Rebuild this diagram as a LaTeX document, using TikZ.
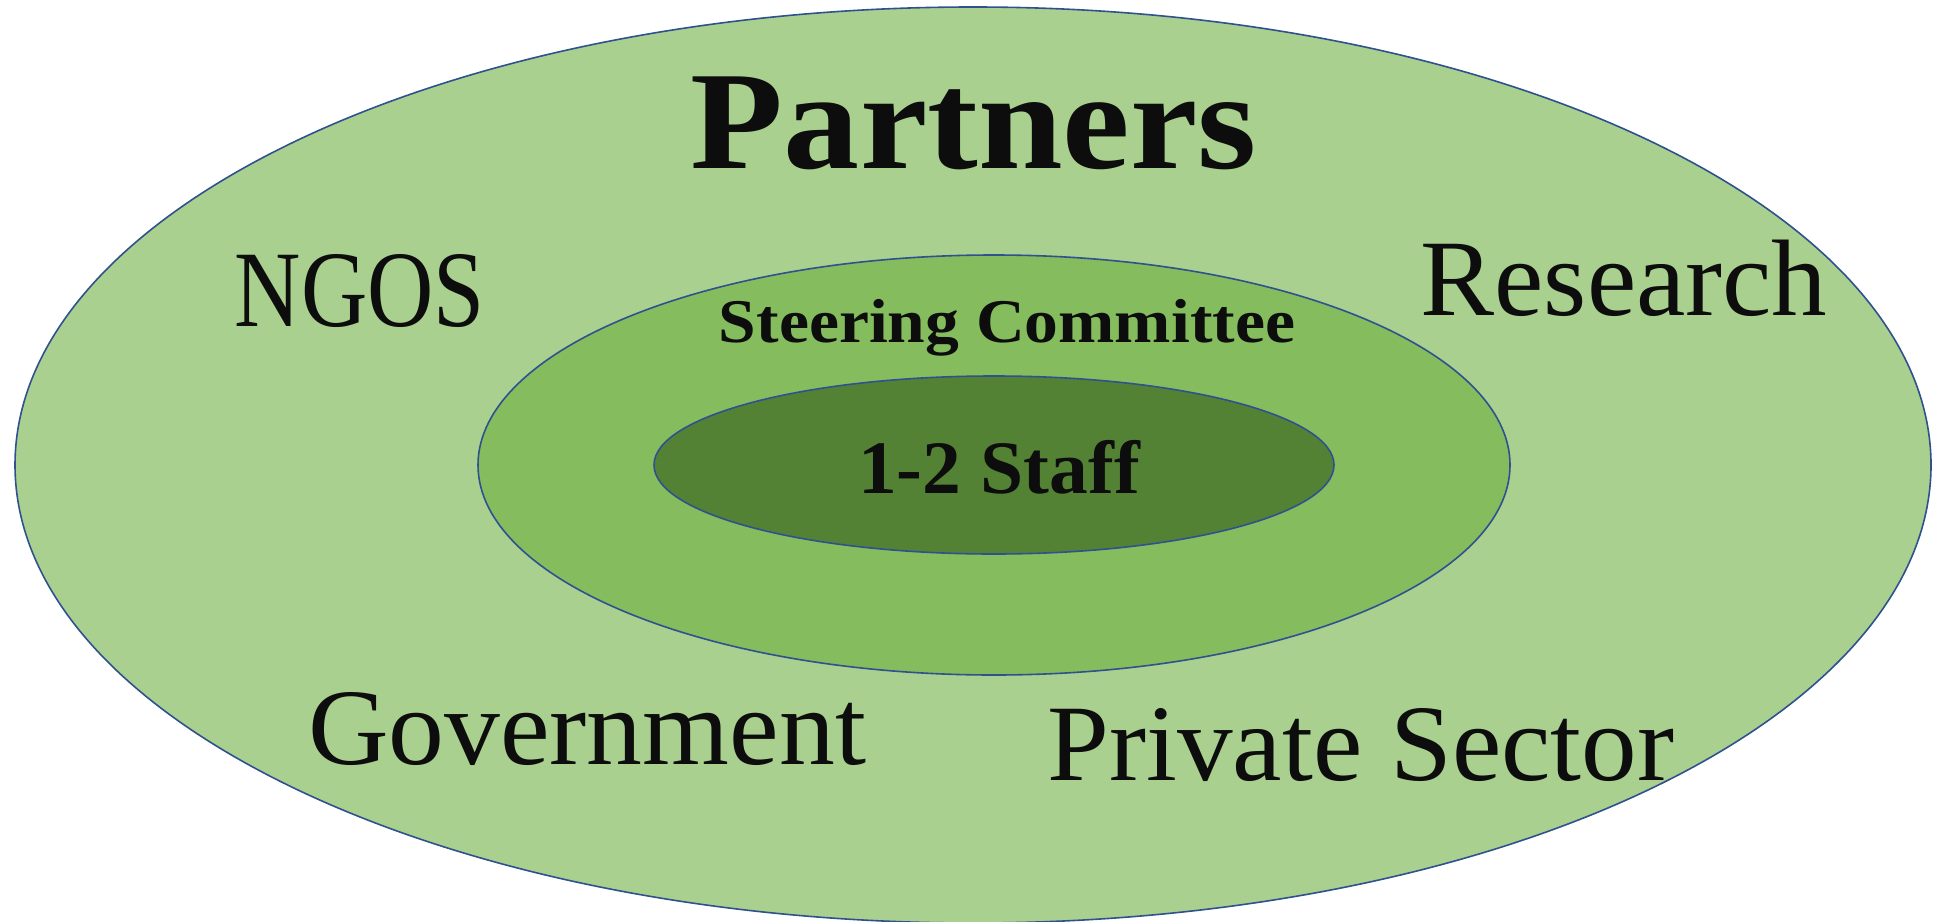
\documentclass[tikz,border=0pt]{standalone}
\usepackage{fontspec}
\setmainfont{Liberation Serif}
\usepackage{graphicx}

\definecolor{partnersfill}{HTML}{A9D08E}
\definecolor{committeefill}{HTML}{84BC5E}
\definecolor{stafffill}{HTML}{548235}
\definecolor{ringline}{HTML}{2F528F}
\definecolor{inktext}{HTML}{0D0D0D}

% width-fitted label: \fitw{target width}{text}
\newcommand{\fitw}[2]{\resizebox{#1}{\height}{#2}}

\tikzset{
  ring/.style={draw=ringline, line width=1.2pt},
  lbl/.style={anchor=base, inner sep=0pt, text=inktext},
  outerlbl/.style={lbl, font=\fontsize{81.6}{90}\selectfont},
}

\begin{document}
\begin{tikzpicture}[x=0.75pt, y=-0.75pt]
  \useasboundingbox (0,0) rectangle (1934,921);

  % nested circles of involvement
  \path[ring, fill=partnersfill]  (973,465) ellipse [x radius=958, y radius=458];
  \path[ring, fill=committeefill] (994,465) ellipse [x radius=516, y radius=210];
  \path[ring, fill=stafffill]     (994,465) ellipse [x radius=340, y radius=89];

  % outer ring: partners
  \node[lbl, font=\bfseries\fontsize{105}{115}\selectfont] (partners) at (974,168)
    {\fitw{424.5pt}{Partners}};
  \node[outerlbl] (ngos)       at (360,326)  {\fitw{187.5pt}{NGOS}};
  \node[outerlbl] (research)   at (1624,315) {\fitw{305pt}{Research}};
  \node[outerlbl] (government) at (587,764)  {\fitw{418.5pt}{Government}};
  \node[outerlbl] (private)    at (1361,780) {\fitw{470pt}{Private Sector}};

  % middle ring and core
  \node[lbl, font=\bfseries\fontsize{46.6}{52}\selectfont] (committee) at (1007,342)
    {\fitw{432pt}{Steering Committee}};
  \node[lbl, font=\bfseries\fontsize{56.6}{62}\selectfont] (staff) at (999,493)
    {\fitw{211.5pt}{1-2 Staff}};
\end{tikzpicture}
\end{document}
